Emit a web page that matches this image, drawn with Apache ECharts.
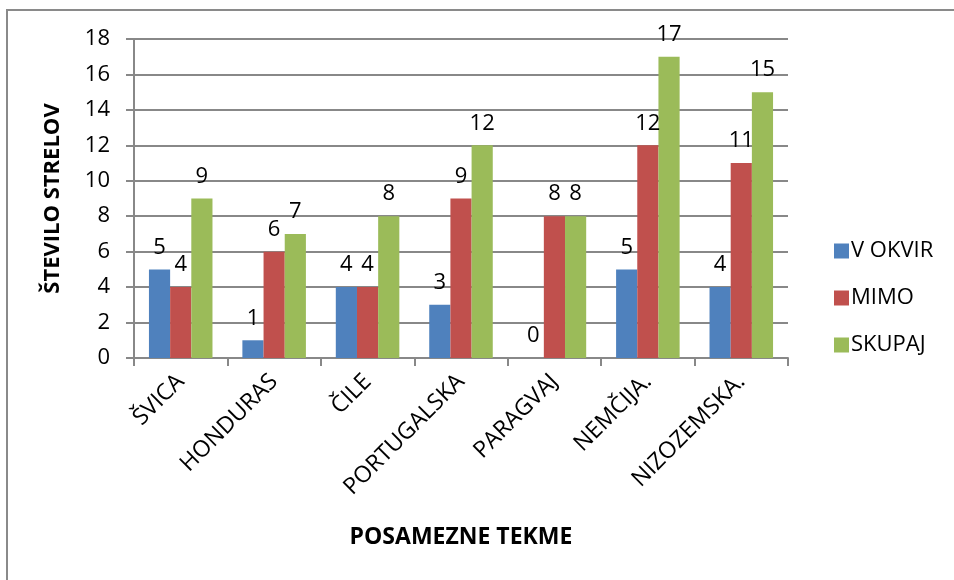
<!DOCTYPE html>
<html>
<head>
<meta charset="utf-8">
<script src="https://cdn.jsdelivr.net/npm/echarts@6/dist/echarts.min.js"></script>
<style>
  html, body { margin: 0; padding: 0; background: #fff; }
  #chart { width: 954px; height: 580px; }
</style>
</head>
<body>
<div id="chart"></div>
<script>
var categories = ['ŠVICA', 'HONDURAS', 'ČILE', 'PORTUGALSKA', 'PARAGVAJ', 'NEMČIJA.', 'NIZOZEMSKA.'];
var vOkvir = [5, 1, 4, 3, 0, 5, 4];
var mimo = [4, 6, 4, 9, 8, 12, 11];
var skupaj = [9, 7, 8, 12, 8, 17, 15];

var font = '"Open Sans", sans-serif';
var chart = echarts.init(document.getElementById('chart'));

function barSeries(name, data, color) {
    return {
        name: name,
        type: 'bar',
        data: data,
        barGap: '0%',
        barCategoryGap: '32%',
        itemStyle: { color: color },
        label: {
            show: true,
            position: 'top',
            distance: 11,
            color: '#000',
            fontSize: 22,
            fontFamily: font
        }
    };
}

chart.setOption({
    animation: false,
    textStyle: { fontFamily: font },
    graphic: [{
        type: 'rect',
        shape: { x: 7, y: 10, width: 1000, height: 600 },
        style: { fill: 'none', stroke: '#8a8a8a', lineWidth: 2 }
    }],
    grid: {
        left: 134,
        right: 166,
        top: 39,
        bottom: 222
    },
    legend: {
        orient: 'vertical',
        left: 829,
        top: 235,
        itemWidth: 15,
        itemHeight: 15,
        itemGap: 25,
        icon: 'rect',
        textStyle: { fontSize: 22, color: '#000', fontFamily: font, padding: [0, 0, 0, -3] },
        data: ['V OKVIR', 'MIMO', 'SKUPAJ']
    },
    xAxis: {
        type: 'category',
        data: categories,
        name: 'POSAMEZNE TEKME',
        nameLocation: 'middle',
        nameGap: 168,
        nameTextStyle: { fontSize: 23, fontWeight: 'bold', color: '#000', fontFamily: font },
        axisLine: { lineStyle: { color: '#888', width: 2 } },
        axisTick: { show: true, length: 8, lineStyle: { color: '#888', width: 2 } },
        axisLabel: {
            rotate: 45,
            fontSize: 23,
            color: '#000',
            margin: 20,
            fontFamily: font
        }
    },
    yAxis: {
        type: 'value',
        min: 0,
        max: 18,
        interval: 2,
        name: 'ŠTEVILO STRELOV',
        nameLocation: 'middle',
        nameGap: 70,
        nameRotate: 90,
        nameTextStyle: { fontSize: 22, fontWeight: 'bold', color: '#000', fontFamily: font },
        axisLine: { show: true, lineStyle: { color: '#888', width: 2 } },
        axisTick: { show: true, length: 8, lineStyle: { color: '#888', width: 2 } },
        splitLine: { lineStyle: { color: '#888', width: 2 } },
        axisLabel: { fontSize: 22, color: '#000', margin: 24, fontFamily: font }
    },
    series: [
        barSeries('V OKVIR', vOkvir, '#4F81BD'),
        barSeries('MIMO', mimo, '#C0504D'),
        barSeries('SKUPAJ', skupaj, '#9BBB59')
    ]
});
</script>
</body>
</html>
